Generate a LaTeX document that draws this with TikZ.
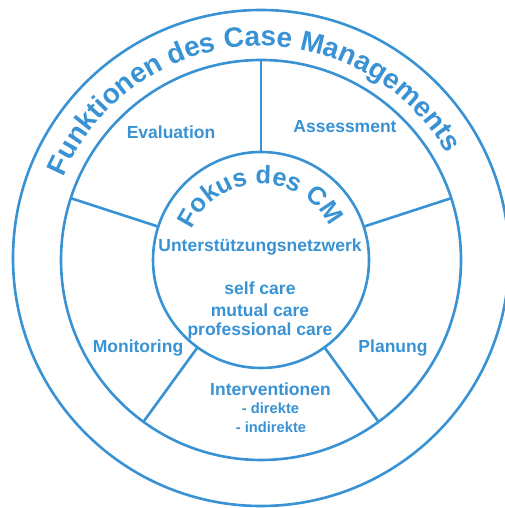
\documentclass[tikz,border=0pt]{standalone}
\usepackage{fontspec}
\setmainfont{Liberation Sans}
\usetikzlibrary{decorations.text,calc}
\definecolor{cmblue}{RGB}{56,146,211}
\begin{document}
\begin{tikzpicture}[x=1bp,y=1bp,
  ring/.style={draw=cmblue, line width=2.6bp},
  lbl/.style={text=cmblue, font=\bfseries\fontsize{17.5bp}{21bp}\selectfont, anchor=base, inner sep=0pt},
  sublbl/.style={lbl, font=\bfseries\fontsize{14.7bp}{18bp}\selectfont}]
\useasboundingbox (0,0) rectangle (505,508);
\coordinate (c) at (261,248);
\coordinate (o) at (261,250);
% rings
\draw[ring] (o) circle[radius=248];
\draw[ring] (c) circle[radius=200];
\draw[ring] (c) circle[radius=108];
% five spokes between focus circle and function ring
\foreach \a in {90,18,-54,-126,162}
  \draw[ring] ($(c)+(\a:108)$) -- ($(c)+(\a:200)$);
% curved titles
\path[decorate, decoration={text along path, text align=center, text color=cmblue,
  text={|\bfseries\fontsize{28bp}{30bp}\selectfont|Funktionen des Case Managements}}]
  ($(c)+(178:214)$) arc[start angle=178, end angle=9, radius=214];
\path[decorate, decoration={text along path, text align=center, text color=cmblue,
  text={|\bfseries\fontsize{25.5bp}{28bp}\selectfont|Fokus des CM}}]
  ($(c)+(172:76)$) arc[start angle=172, end angle=10, radius=76];
% segment labels
\node[lbl] (eval) at (171,369) {Evaluation};
\node[lbl] (assess) at (345,375) {Assessment};
\node[lbl] (monit) at (138,155) {Monitoring};
\node[lbl] (plan) at (393,155) {Planung};
\node[lbl] (interv) at (270.5,112) {Interventionen};
\node[sublbl] (dir) at (270.5,94) {- direkte};
\node[sublbl] (indir) at (271,75) {- indirekte};
% focus contents
\node[lbl] (netz) at (260,256.3) {Unterstützungsnetzwerk};
\node[lbl] (self) at (260,213) {self care};
\node[lbl] (mutual) at (260,191.5) {mutual care};
\node[lbl] (prof) at (260,172) {professional care};
\end{tikzpicture}
\end{document}
